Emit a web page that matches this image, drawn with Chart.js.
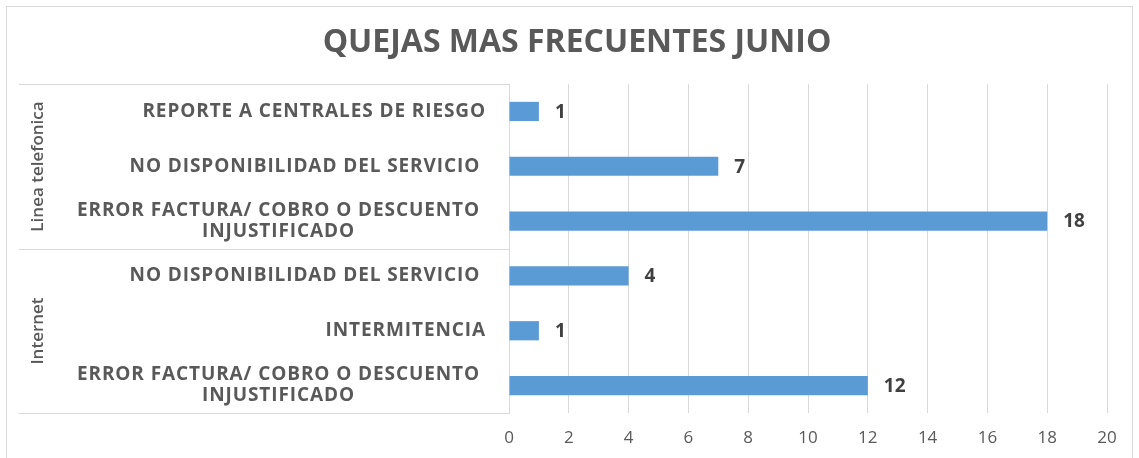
<!DOCTYPE html>
<html>
<head>
<meta charset="utf-8">
<script src="https://cdn.jsdelivr.net/npm/chart.js@4.4.1/dist/chart.umd.min.js"></script>
<style>
  html, body { margin: 0; padding: 0; background: #ffffff; }
  #wrap { width: 1139px; height: 458px; position: relative; }
</style>
</head>
<body>
<div id="wrap"><canvas id="c"></canvas></div>
<script>
// ---- data ----
const chartTitle = "QUEJAS MAS FRECUENTES JUNIO";
const groupNames = ["Linea telefonica", "Internet"];
const groupSizes = [3, 3];
const categories = [
  "REPORTE A CENTRALES DE RIESGO",
  "NO DISPONIBILIDAD DEL SERVICIO ",
  ["ERROR FACTURA/ COBRO O DESCUENTO", "INJUSTIFICADO"],
  "NO DISPONIBILIDAD DEL SERVICIO ",
  "INTERMITENCIA",
  ["ERROR FACTURA/ COBRO O DESCUENTO", "INJUSTIFICADO"]
];
const values = [1, 7, 18, 4, 1, 12];
const axisMin = 0;
const axisMax = 20;
const axisStep = 2;

const TEXT = "#595959";
const LINE = "#d9d9d9";
const BAR = "#5b9bd5";

const decor = {
  id: "decor",
  beforeDraw(chart) {
    const ctx = chart.ctx;
    ctx.save();
    ctx.fillStyle = "#ffffff";
    ctx.fillRect(0, 0, chart.width, chart.height);
    ctx.strokeStyle = LINE;
    ctx.lineWidth = 1;
    ctx.strokeRect(6.5, 6.5, 1126, 470);
    ctx.restore();
  },
  afterDraw(chart) {
    const ctx = chart.ctx;
    const area = chart.chartArea;
    const y = chart.scales.y;
    const tableLeft = 19;
    ctx.save();

    // title
    ctx.fillStyle = TEXT;
    ctx.font = "bold 32px 'Open Sans'";
    ctx.textAlign = "center";
    ctx.textBaseline = "middle";
    ctx.fillText(chartTitle, 577, 43);

    // table horizontal lines
    const bounds = [area.top];
    let idx = 0;
    groupSizes.forEach((n) => {
      idx += n;
      if (idx < categories.length) {
        bounds.push(Math.round((y.getPixelForValue(idx - 1) + y.getPixelForValue(idx)) / 2));
      }
    });
    bounds.push(area.bottom);
    ctx.strokeStyle = LINE;
    ctx.lineWidth = 1;
    bounds.forEach(b => {
      const yy = Math.round(b) + 0.5;
      ctx.beginPath();
      ctx.moveTo(tableLeft, yy);
      ctx.lineTo(area.left, yy);
      ctx.stroke();
    });

    // category labels
    const labelRight = area.left - 23;
    ctx.fillStyle = TEXT;
    ctx.font = "bold 19px 'Open Sans'";
    try { ctx.letterSpacing = "0.9px"; } catch (e) {}
    ctx.textBaseline = "middle";
    categories.forEach((cat, i) => {
      const cy = y.getPixelForValue(i);
      const lines = Array.isArray(cat) ? cat : [cat];
      if (lines.length === 1) {
        ctx.textAlign = "right";
        ctx.fillText(lines[0], labelRight, cy);
      } else {
        const w = Math.max(...lines.map(l => ctx.measureText(l).width));
        const cx = labelRight - 6 - w / 2;
        const lh = 21;
        ctx.textAlign = "center";
        lines.forEach((l, k) => {
          ctx.fillText(l, cx, cy + (k - (lines.length - 1) / 2) * lh);
        });
      }
    });

    // group labels (rotated)
    try { ctx.letterSpacing = "0px"; } catch (e) {}
    ctx.font = "600 17px 'Open Sans'";
    ctx.fillStyle = TEXT;
    ctx.textAlign = "center";
    ctx.textBaseline = "middle";
    groupNames.forEach((name, g) => {
      const gy = (bounds[g] + bounds[g + 1]) / 2;
      ctx.save();
      ctx.translate(38, gy);
      ctx.rotate(-Math.PI / 2);
      ctx.fillText(name, 0, 0);
      ctx.restore();
    });

    // data labels
    const meta = chart.getDatasetMeta(0);
    ctx.font = "bold 19px 'Open Sans'";
    ctx.fillStyle = "#404040";
    ctx.textAlign = "left";
    ctx.textBaseline = "middle";
    meta.data.forEach((bar, i) => {
      ctx.fillText(String(values[i]), bar.x + 16, bar.y + 1);
    });
    ctx.restore();
  }
};

new Chart(document.getElementById("c"), {
  type: "bar",
  data: {
    labels: categories.map(c => Array.isArray(c) ? c.join(" ") : c),
    datasets: [{
      data: values,
      backgroundColor: BAR,
      borderWidth: 0,
      categoryPercentage: 1,
      barPercentage: 0.35
    }]
  },
  options: {
    indexAxis: "y",
    responsive: true,
    maintainAspectRatio: false,
    animation: false,
    events: [],
    layout: { padding: { left: 0, right: 32, top: 84, bottom: 0 } },
    plugins: {
      legend: { display: false },
      tooltip: { enabled: false },
      title: { display: false }
    },
    scales: {
      x: {
        min: axisMin,
        max: axisMax,
        ticks: {
          stepSize: axisStep,
          color: TEXT,
          font: { family: "'Open Sans'", size: 17 },
          padding: 15
        },
        grid: { color: LINE, lineWidth: 1, drawTicks: false },
        border: { display: false },
        afterFit(scale) { scale.height = 45; }
      },
      y: {
        ticks: { display: false },
        grid: { display: false, drawTicks: false },
        border: { display: true, color: LINE, width: 1 },
        afterFit(scale) { scale.width = 509; }
      }
    }
  },
  plugins: [decor]
});
</script>
</body>
</html>
